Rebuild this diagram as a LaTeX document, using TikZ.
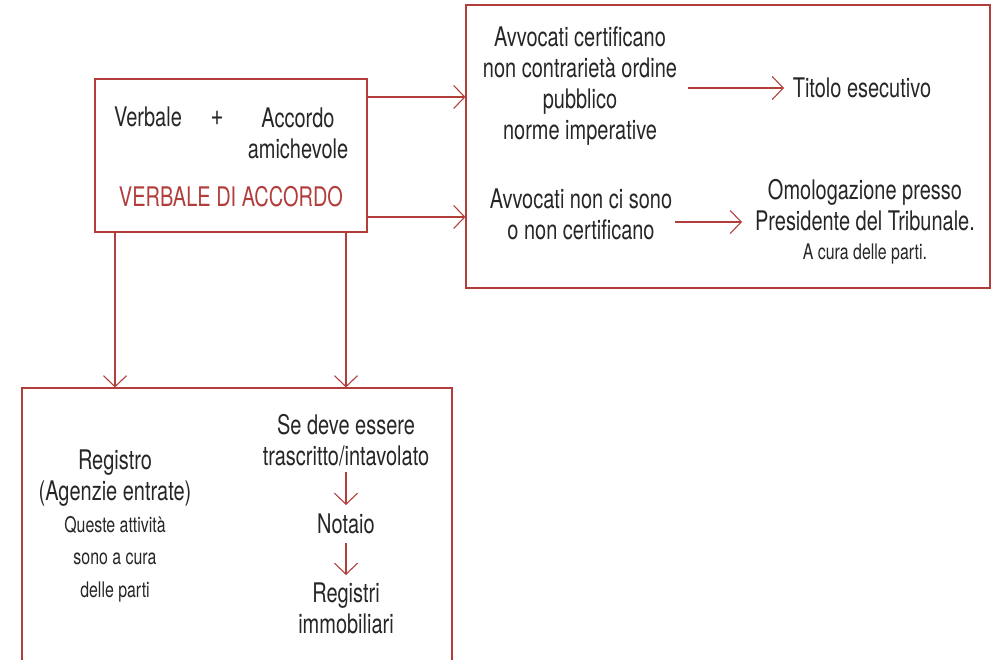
\documentclass[tikz,border=0pt]{standalone}
\usepackage{fontspec}
\setmainfont[FakeStretch=0.74]{TeX Gyre Heros}
\usetikzlibrary{arrows.meta}
\definecolor{rd}{RGB}{178,62,60}
\definecolor{tx}{RGB}{38,38,38}
\tikzset{
 box/.style={draw=rd, line width=1.1pt, rectangle, inner sep=0pt},
 arr/.style={draw=rd, line width=1.1pt, -{Straight Barb[length=11pt,width=23pt,line width=1.1pt]}},
 lbl/.style={text=tx, align=center, font=\fontsize{27}{31}\selectfont, inner sep=0pt},
 sml/.style={text=tx, align=center, font=\fontsize{21.5}{32.5}\selectfont, inner sep=0pt},
}
\begin{document}
\begin{tikzpicture}[x=1pt,y=-1pt]
\useasboundingbox (0,0) rectangle (997,660);
\clip (0,0) rectangle (997,660);
% boxes
\node[box, minimum width=272pt, minimum height=153pt] (b1) at (231,155.5) {};
\node[box, minimum width=524pt, minimum height=283pt] (b2) at (728,146.5) {};
\node[box, minimum width=430pt, minimum height=312pt] (b3) at (237,544) {};
% box 1 texts
\node[lbl] (verb) at (148,117) {Verbale};
\node[lbl, font=\fontsize{30}{31}\selectfont] (plus) at (217,118) {+};
\node[lbl] (acc) at (298,133) {Accordo\\amichevole};
\node[lbl, text=rd] (vda) at (231,197) {VERBALE DI ACCORDO};
% box 2 texts
\node[lbl] (cert) at (580,86) {Avvocati certificano\\non contrarietà ordine\\pubblico\\norme imperative};
\node[lbl] (tit) at (862,88) {Titolo esecutivo};
\node[lbl] (nonc) at (581,214) {Avvocati non ci sono\\o non certificano};
\node[lbl] (omo) at (865,205) {Omologazione presso\\Presidente del Tribunale.};
\node[sml] (cura) at (865,254) {A cura delle parti.};
% box 3 texts
\node[lbl] (reg) at (115,478) {Registro\\(Agenzie entrate)};
\node[sml] (quest) at (115,559) {Queste attività\\sono a cura\\delle parti};
\node[lbl] (se) at (346,440) {Se deve essere\\trascritto/intavolato};
\node[lbl] (not) at (346,524) {Notaio};
\node[lbl] (regi) at (346,608) {Registri\\immobiliari};
% arrow end points
\coordinate (c1s) at (688,88);  \coordinate (c1e) at (784,88);
\coordinate (c2s) at (675,222); \coordinate (c2e) at (742,222);
\coordinate (s1s) at (346,472); \coordinate (s1e) at (346,505);
\coordinate (s2s) at (346,543); \coordinate (s2e) at (346,575);
% connectors
\draw[arr] (b1.east |- 0,97) -- (b2.west |- 0,97);
\draw[arr] (b1.east |- 0,217) -- (b2.west |- 0,217);
\draw[arr] (b1.south -| reg) -- (b3.north -| reg);
\draw[arr] (b1.south -| se) -- (b3.north -| se);
\draw[arr] (c1s) -- (c1e);
\draw[arr] (c2s) -- (c2e);
\draw[arr] (s1s) -- (s1e);
\draw[arr] (s2s) -- (s2e);
\end{tikzpicture}
\end{document}
